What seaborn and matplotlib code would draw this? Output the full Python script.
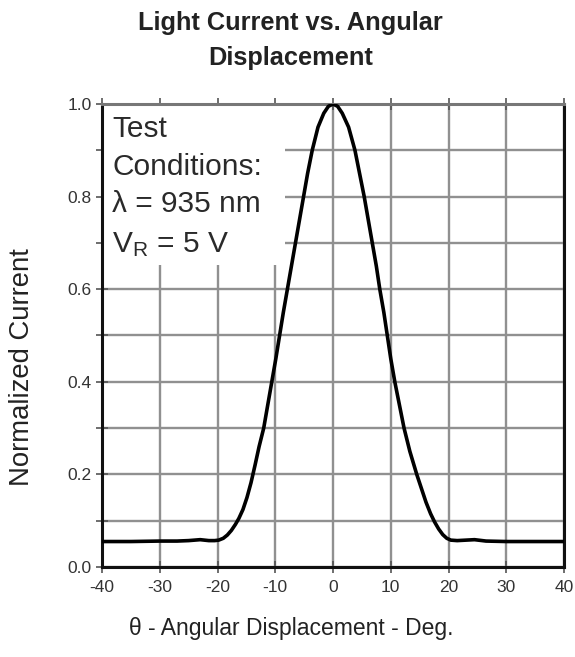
import matplotlib
matplotlib.use("Agg")
import matplotlib.pyplot as plt
from matplotlib.patches import Rectangle
from matplotlib.ticker import MultipleLocator
import seaborn as sns
import pandas as pd

# ---- data ----
angle_deg = [-40, -35, -30, -27, -25, -23, -21.5, -20.5, -19.8, -19.0, -18.3, -17.6,
             -16.9, -16.3, -15.6, -14.9, -14.2, -13.5, -12.8, -12.0, -11.3, -10.6,
             -9.9, -9.25, -8.6, -7.9, -7.2, -6.5, -5.8, -5.1, -4.4, -3.6, -2.6, -1.6,
             -0.8, 0.0, 0.8, 1.6, 2.7, 3.8, 4.6, 5.4, 6.1, 6.8, 7.5, 8.1, 8.8, 9.4,
             10.0, 10.7, 11.5, 12.3, 13.3, 14.5, 15.3, 16.1, 16.9, 17.6, 18.3, 19.0,
             19.7, 20.4, 21.5, 23.0, 24.5, 26.5, 30, 35, 40]
current = [0.055, 0.055, 0.056, 0.056, 0.057, 0.059, 0.057, 0.057, 0.058, 0.062, 0.069, 0.079,
           0.092, 0.105, 0.124, 0.150, 0.182, 0.220, 0.260, 0.300, 0.350, 0.400,
           0.450, 0.500, 0.550, 0.600, 0.650, 0.700, 0.750, 0.800, 0.850, 0.900, 0.950, 0.980,
           0.995, 1.000, 0.995, 0.980, 0.950, 0.900, 0.850, 0.800, 0.750, 0.700, 0.650, 0.600, 0.550, 0.500,
           0.450, 0.400, 0.350, 0.300, 0.250, 0.200, 0.170, 0.140, 0.115, 0.097, 0.082, 0.070,
           0.062, 0.058, 0.057, 0.058, 0.059, 0.056, 0.055, 0.055, 0.055]

x_ticks = [-40, -30, -20, -10, 0, 10, 20, 30, 40]
y_ticks = [0.0, 0.2, 0.4, 0.6, 0.8, 1.0]
y_tick_labels = ["0.0", "0.2", "0.4", "0.6", "0.8", "1.0"]

title_text = "Light Current vs. Angular\nDisplacement"
x_label = "θ - Angular Displacement - Deg."
y_label = "Normalized Current"
box_lines = ["Test", "Conditions:", "λ = 935 nm", r"V$_\mathrm{R}$ = 5 V"]

df = pd.DataFrame({"angle": angle_deg, "current": current})

sns.set_theme(style="white")
plt.rcParams["font.family"] = ["Liberation Sans", "DejaVu Sans"]
plt.rcParams["mathtext.fontset"] = "custom"
plt.rcParams["mathtext.rm"] = "Liberation Sans"
plt.rcParams["mathtext.it"] = "Liberation Sans:italic"
plt.rcParams["axes.unicode_minus"] = False

fig = plt.figure(figsize=(5.75, 6.57), dpi=100)
ax = fig.add_axes([0.1774, 0.137, 0.8035, 0.7047])

sns.lineplot(data=df, x="angle", y="current", ax=ax, color="black",
             linewidth=2.6, zorder=3, sort=False)
ax.set_xlabel("")
ax.set_ylabel("")

ax.set_xlim(-40, 40)
ax.set_ylim(0, 1.0)
ax.set_xticks(x_ticks)
ax.set_xticklabels([str(v) for v in x_ticks])
ax.set_yticks(y_ticks)
ax.set_yticklabels(y_tick_labels)
ax.yaxis.set_minor_locator(MultipleLocator(0.1))

ax.set_axisbelow(True)
ax.grid(True, which="both", color="#909090", linewidth=1.7)

for lab in ax.get_xticklabels() + ax.get_yticklabels():
    lab.set_fontsize(12.5)
    lab.set_color("#333333")

ax.tick_params(axis="both", which="both", direction="inout", length=9,
               width=1.2, color="#555555", left=True, bottom=True, pad=3)
ax.tick_params(axis="x", which="both", top=True, labeltop=False)
ax.tick_params(axis="x", which="major", pad=5)

for side in ["left", "bottom", "right"]:
    ax.spines[side].set_color("#111111")
    ax.spines[side].set_linewidth(2.2)
ax.spines["top"].set_color("#777777")
ax.spines["top"].set_linewidth(2.2)

# white box behind test conditions text
ax.add_patch(Rectangle((0, 0.652), 0.396, 0.348, transform=ax.transAxes,
                       facecolor="white", edgecolor="none", zorder=1.5))
y_pos = [0.945, 0.865, 0.783, 0.697]
for t, yy in zip(box_lines, y_pos):
    ax.text(0.022, yy, t, transform=ax.transAxes, fontsize=21.5, color="#2a2a2a",
            va="center", ha="left", zorder=2)

fig.text(0.506, 0.044, x_label, ha="center", va="center", fontsize=16.5,
         color="#222222")
fig.text(0.038, 0.441, y_label, ha="center", va="center", fontsize=19.8,
         color="#222222", rotation=90)

fig.text(0.505, 0.938, title_text, ha="center", va="center", fontsize=18.3,
         fontweight="bold", color="#222222", linespacing=1.58)

fig.savefig("out.png", dpi=100)
